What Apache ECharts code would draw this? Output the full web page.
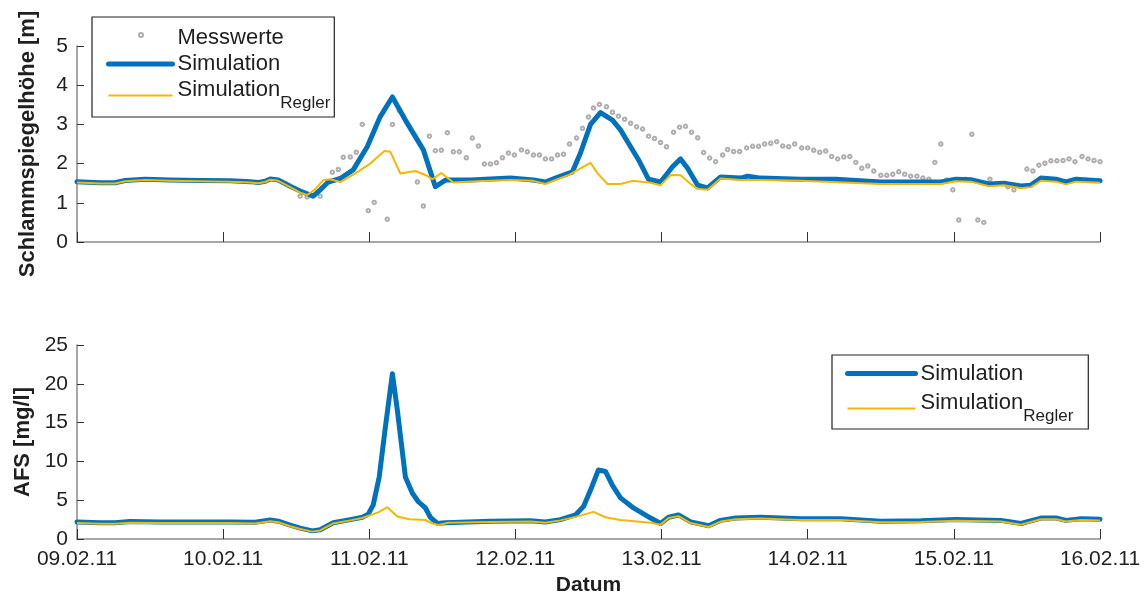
<!DOCTYPE html>
<html>
<head>
<meta charset="utf-8">
<script src="https://cdn.jsdelivr.net/npm/echarts@6/dist/echarts.min.js"></script>
<style>
html,body{margin:0;padding:0;background:#fff;}
#chart{width:1147px;height:597px;}
</style>
</head>
<body>
<div id="chart"></div>
<script>
// x values are days after 09.02.11
const xTickLabels = ['09.02.11','10.02.11','11.02.11','12.02.11','13.02.11','14.02.11','15.02.11','16.02.11'];

// Top panel: Schlammspiegelhöhe [m]
const levelMesswerte = [
  [1.527,1.17],[1.575,1.15],[1.664,1.17],[1.747,1.78],[1.788,1.85],[1.822,2.16],[1.870,2.17],[1.911,2.29],
  [1.952,3.00],[1.993,0.80],[2.034,1.01],[2.123,0.58],[2.158,3.00],[2.205,3.35],[2.329,1.53],[2.370,0.92],
  [2.411,2.70],[2.452,2.33],[2.493,2.34],[2.534,2.79],[2.575,2.30],[2.616,2.30],[2.664,2.15],[2.705,2.65],
  [2.747,2.45],[2.788,1.99],[2.829,1.99],[2.870,2.02],[2.911,2.15],[2.952,2.27],[2.993,2.22],[3.041,2.35],
  [3.082,2.30],[3.123,2.22],[3.164,2.22],[3.205,2.12],[3.247,2.12],[3.288,2.22],[3.329,2.24],[3.370,2.50],
  [3.418,2.65],[3.459,2.90],[3.500,3.19],[3.534,3.42],[3.575,3.51],[3.623,3.45],[3.664,3.31],[3.705,3.21],
  [3.747,3.13],[3.788,3.03],[3.829,2.94],[3.870,2.88],[3.911,2.70],[3.952,2.64],[3.993,2.54],[4.034,2.43],
  [4.082,2.80],[4.123,2.93],[4.164,2.95],[4.205,2.80],[4.247,2.66],[4.288,2.28],[4.329,2.14],[4.370,2.05],
  [4.418,2.22],[4.452,2.36],[4.493,2.31],[4.534,2.31],[4.582,2.40],[4.623,2.44],[4.664,2.44],[4.705,2.50],
  [4.747,2.52],[4.788,2.56],[4.829,2.45],[4.870,2.43],[4.911,2.50],[4.959,2.40],[5.000,2.40],[5.041,2.34],
  [5.082,2.29],[5.123,2.32],[5.164,2.18],[5.205,2.12],[5.247,2.17],[5.288,2.18],[5.329,2.03],[5.370,1.88],
  [5.411,1.94],[5.452,1.81],[5.500,1.70],[5.541,1.70],[5.582,1.73],[5.623,1.79],[5.664,1.73],[5.705,1.68],
  [5.747,1.68],[5.788,1.63],[5.829,1.60],[5.870,2.03],[5.911,2.50],[5.952,1.58],[5.993,1.33],[6.034,0.56],
  [6.082,1.60],[6.123,2.75],[6.164,0.56],[6.205,0.50],[6.247,1.60],[6.370,1.41],[6.411,1.33],[6.500,1.86],
  [6.541,1.81],[6.582,1.96],[6.623,2.01],[6.664,2.07],[6.705,2.07],[6.747,2.08],[6.788,2.12],[6.829,2.05],
  [6.877,2.18],[6.918,2.12],[6.959,2.08],[7.000,2.05]
];
const levelSimulation = [
  [0,1.54],[0.158,1.51],[0.26,1.51],[0.329,1.57],[0.466,1.60],[0.637,1.58],[0.842,1.57],[1.048,1.56],
  [1.185,1.54],[1.24,1.52],[1.288,1.55],[1.322,1.61],[1.377,1.58],[1.459,1.42],[1.527,1.30],[1.562,1.25],
  [1.616,1.17],[1.664,1.33],[1.719,1.53],[1.801,1.62],[1.890,1.84],[1.986,2.43],[2.075,3.20],[2.158,3.70],
  [2.247,3.11],[2.370,2.35],[2.452,1.41],[2.521,1.58],[2.692,1.58],[2.966,1.63],[3.123,1.58],[3.205,1.53],
  [3.274,1.63],[3.390,1.79],[3.445,2.27],[3.514,3.00],[3.582,3.30],[3.664,3.11],[3.719,2.86],[3.788,2.43],
  [3.842,2.10],[3.911,1.60],[3.993,1.53],[4.075,1.92],[4.130,2.12],[4.178,1.88],[4.247,1.45],[4.315,1.38],
  [4.404,1.66],[4.541,1.63],[4.589,1.68],[4.678,1.63],[4.952,1.60],[5.192,1.60],[5.500,1.53],[5.911,1.53],
  [6.014,1.60],[6.116,1.59],[6.240,1.48],[6.342,1.50],[6.459,1.43],[6.527,1.45],[6.596,1.63],[6.699,1.60],
  [6.767,1.53],[6.836,1.60],[7.0,1.56]
];
const levelRegler = [
  [0,1.52],[0.158,1.49],[0.26,1.49],[0.329,1.55],[0.466,1.58],[0.637,1.56],[0.842,1.55],[1.048,1.54],
  [1.185,1.52],[1.24,1.50],[1.288,1.53],[1.322,1.59],[1.377,1.56],[1.459,1.40],[1.527,1.26],[1.575,1.20],
  [1.630,1.35],[1.685,1.58],[1.733,1.60],[1.801,1.53],[1.904,1.75],[2.007,2.00],[2.103,2.32],[2.144,2.30],
  [2.212,1.75],[2.315,1.81],[2.384,1.71],[2.432,1.60],[2.493,1.76],[2.575,1.52],[2.740,1.55],[2.966,1.58],
  [3.123,1.56],[3.205,1.48],[3.288,1.60],[3.370,1.72],[3.466,1.92],[3.514,2.02],[3.562,1.75],[3.630,1.48],
  [3.719,1.48],[3.801,1.56],[3.925,1.51],[3.993,1.45],[4.062,1.71],[4.130,1.70],[4.199,1.48],[4.247,1.35],
  [4.315,1.33],[4.404,1.62],[4.541,1.58],[4.678,1.58],[4.952,1.56],[5.500,1.48],[5.911,1.48],[6.014,1.55],
  [6.116,1.54],[6.240,1.42],[6.342,1.45],[6.459,1.37],[6.527,1.40],[6.596,1.56],[6.699,1.54],[6.767,1.47],
  [6.836,1.54],[7.0,1.51]
];

// Bottom panel: AFS [mg/l]
const afsSimulation = [
  [0,2.2],[0.158,2.1],[0.26,2.1],[0.363,2.25],[0.568,2.2],[0.842,2.2],[1.048,2.2],[1.219,2.15],
  [1.322,2.45],[1.377,2.3],[1.459,1.8],[1.527,1.4],[1.610,1.05],[1.664,1.2],[1.753,2.1],[1.870,2.5],
  [1.952,2.8],[1.993,3.2],[2.027,4.4],[2.068,8.0],[2.110,14.4],[2.158,21.3],[2.192,16.6],[2.247,8.0],
  [2.295,5.9],[2.336,4.8],[2.384,4.0],[2.418,2.8],[2.466,2.0],[2.521,2.1],[2.829,2.3],[3.103,2.35],
  [3.205,2.2],[3.308,2.5],[3.411,3.1],[3.466,4.2],[3.514,6.3],[3.568,8.9],[3.616,8.7],[3.664,6.9],
  [3.719,5.3],[3.808,4.0],[3.925,2.7],[3.993,2.0],[4.048,2.8],[4.116,3.1],[4.199,2.2],[4.322,1.7],
  [4.404,2.4],[4.507,2.7],[4.678,2.8],[4.952,2.6],[5.226,2.6],[5.500,2.3],[5.774,2.35],[6.014,2.5],
  [6.322,2.4],[6.459,2.0],[6.596,2.7],[6.699,2.7],[6.767,2.4],[6.870,2.6],[7.0,2.55]
];
const afsRegler = [
  [0,2.05],[0.158,1.95],[0.26,1.95],[0.363,2.1],[0.568,2.05],[0.842,2.05],[1.048,2.05],[1.219,2.0],
  [1.322,2.3],[1.377,2.15],[1.459,1.65],[1.527,1.3],[1.610,0.95],[1.664,1.1],[1.753,2.0],[1.870,2.4],
  [1.952,2.7],[2.027,3.2],[2.068,3.5],[2.123,4.1],[2.192,2.9],[2.274,2.55],[2.384,2.45],[2.432,2.0],
  [2.473,1.8],[2.541,2.1],[2.829,2.2],[3.103,2.25],[3.205,2.1],[3.308,2.4],[3.411,2.85],[3.534,3.5],
  [3.616,2.8],[3.719,2.45],[3.925,2.1],[3.993,1.85],[4.048,2.7],[4.116,2.95],[4.199,2.05],[4.322,1.55],
  [4.404,2.25],[4.507,2.55],[4.678,2.65],[4.952,2.45],[5.226,2.45],[5.500,2.15],[5.774,2.2],[6.014,2.35],
  [6.322,2.25],[6.459,1.85],[6.596,2.55],[6.699,2.55],[6.767,2.25],[6.870,2.45],[7.0,2.4]
];

const FONT = 'Liberation Sans, Arial, Helvetica, sans-serif';
const BLUE = '#0072BD';
const YELLOW = '#F5B800';
const GRAY = '#9a9a9a';
const TXT = '#1f1f1f';

const chart = echarts.init(document.getElementById('chart'), null, {renderer: 'canvas'});

function xAxisCfg(grid, showLabels) {
  return {
    type: 'value', gridIndex: grid, min: 0, max: 7, interval: 1,
    axisLine: {show: true, onZero: false, lineStyle: {color: '#8a8a8a', width: 1.5}},
    axisTick: {show: true, inside: true, length: 10, lineStyle: {color: '#333', width: 1}},
    axisLabel: {show: showLabels, margin: 10, fontSize: 21, color: TXT, fontFamily: FONT,
      formatter: v => xTickLabels[Math.round(v)] || ''},
    splitLine: {show: false},
    name: showLabels ? 'Datum' : '', nameLocation: 'middle', nameGap: 36,
    nameTextStyle: {fontSize: 21, fontWeight: 'bold', color: TXT, fontFamily: FONT}
  };
}
function yAxisCfg(grid, max, interval, name) {
  return {
    type: 'value', gridIndex: grid, min: 0, max: max, interval: interval,
    axisLine: {show: true, onZero: false, lineStyle: {color: '#8a8a8a', width: 1.5}},
    axisTick: {show: true, inside: true, length: 7, lineStyle: {color: '#333', width: 1}},
    axisLabel: {margin: 9, fontSize: 21, color: TXT, fontFamily: FONT},
    splitLine: {show: false},
    name: name, nameLocation: 'middle', nameRotate: 90, nameGap: 38,
    nameTextStyle: {fontSize: 22, fontWeight: 'bold', color: TXT, fontFamily: FONT}
  };
}

const rich = {
  m: {fontSize: 22, verticalAlign: 'top', fontFamily: FONT, color: TXT},
  s: {fontSize: 17, verticalAlign: 'top', padding: [16, 0, 0, 0], fontFamily: FONT, color: TXT}
};
const legendFormatter = name => name === 'SimulationRegler' ? '{m|Simulation}{s|Regler}' : '{m|' + name + '}';
const hideSym = {opacity: 0};

const option = {
  backgroundColor: '#ffffff',
  animation: false,
  grid: [
    {left: 77, right: 47, top: 46, height: 196},
    {left: 77, right: 47, top: 345, height: 194}
  ],
  xAxis: [xAxisCfg(0, false), xAxisCfg(1, true)],
  yAxis: [yAxisCfg(0, 5, 1, 'Schlammspiegelhöhe [m]'), yAxisCfg(1, 25, 5, 'AFS [mg/l]')],
  legend: [
    {
      selectedMode: false, orient: 'vertical', left: 92, top: 17,
      padding: [10, 4, 5, 14], itemGap: 4, itemWidth: 64, itemHeight: 14,
      borderColor: '#222', borderWidth: 1.2, backgroundColor: '#fff',
      data: [
        {name: 'Messwerte', itemStyle: hideSym},
        {name: 'Simulation', itemStyle: hideSym, lineStyle: {width: 5}},
        {name: 'SimulationRegler', itemStyle: hideSym, lineStyle: {width: 2}}
      ],
      formatter: legendFormatter,
      textStyle: {fontSize: 22, fontFamily: FONT, color: TXT, rich: rich}
    },
    {
      selectedMode: false, orient: 'vertical', left: 138, top: 32,
      padding: 0, itemWidth: 4, itemHeight: 4,
      data: [{name: 'Messwerte', icon: 'emptyCircle'}],
      formatter: () => ' ',
      textStyle: {fontSize: 1}
    },
    {
      selectedMode: false, orient: 'vertical', left: 832, top: 355,
      padding: [7.5, 15, 4, 13], itemGap: 7.5, itemWidth: 68, itemHeight: 14,
      borderColor: '#222', borderWidth: 1.2, backgroundColor: '#fff',
      data: [
        {name: 'Simulation', itemStyle: hideSym, lineStyle: {width: 5}},
        {name: 'SimulationRegler', itemStyle: hideSym, lineStyle: {width: 2}}
      ],
      formatter: legendFormatter,
      textStyle: {fontSize: 22, fontFamily: FONT, color: TXT, rich: rich}
    }
  ],
  series: [
    {
      name: 'Messwerte', type: 'scatter', xAxisIndex: 0, yAxisIndex: 0,
      data: levelMesswerte, symbol: 'emptyCircle', symbolSize: 3.5,
      itemStyle: {color: GRAY, borderWidth: 1}, z: 1
    },
    {
      name: 'Simulation', type: 'line', xAxisIndex: 0, yAxisIndex: 0,
      data: levelSimulation, symbol: 'none', showSymbol: false,
      lineStyle: {color: BLUE, width: 5, join: 'round', cap: 'round'}, itemStyle: {color: BLUE}, z: 2
    },
    {
      name: 'SimulationRegler', type: 'line', xAxisIndex: 0, yAxisIndex: 0,
      data: levelRegler, symbol: 'none', showSymbol: false,
      lineStyle: {color: YELLOW, width: 2, join: 'round'}, itemStyle: {color: YELLOW}, z: 3
    },
    {
      name: 'Simulation', type: 'line', xAxisIndex: 1, yAxisIndex: 1,
      data: afsSimulation, symbol: 'none', showSymbol: false,
      lineStyle: {color: BLUE, width: 5, join: 'round', cap: 'round'}, itemStyle: {color: BLUE}, z: 2
    },
    {
      name: 'SimulationRegler', type: 'line', xAxisIndex: 1, yAxisIndex: 1,
      data: afsRegler, symbol: 'none', showSymbol: false,
      lineStyle: {color: YELLOW, width: 2, join: 'round'}, itemStyle: {color: YELLOW}, z: 3
    }
  ]
};
chart.setOption(option);
</script>
</body>
</html>
